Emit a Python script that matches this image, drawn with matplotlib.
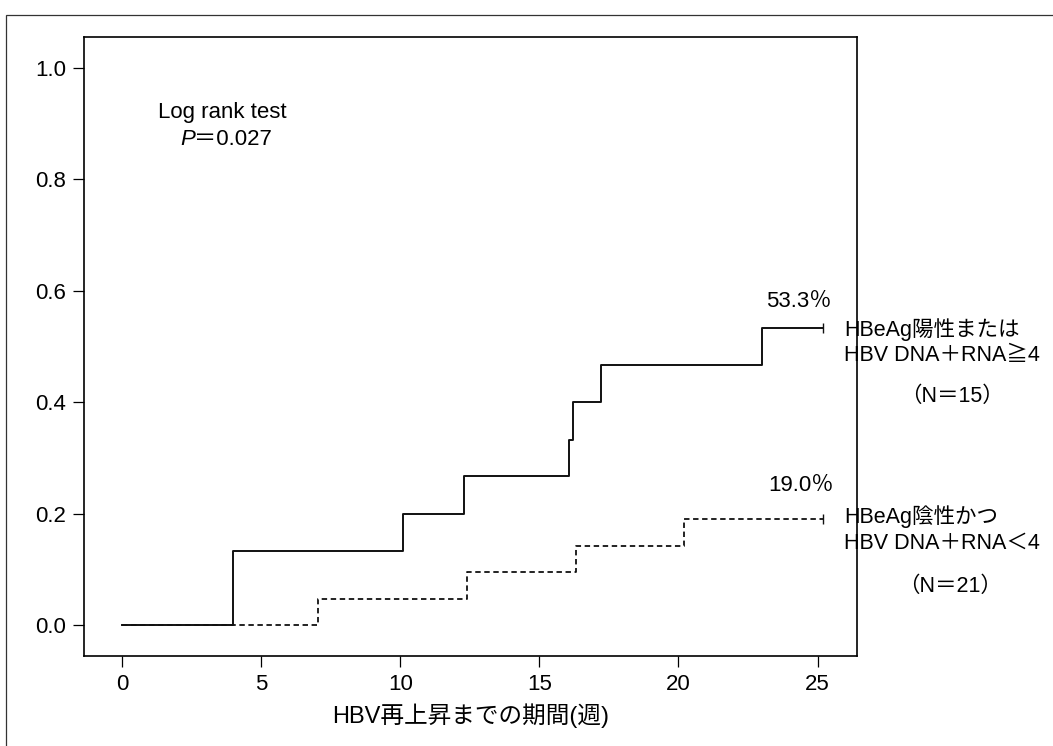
import matplotlib
matplotlib.use("Agg")
from matplotlib import pyplot as plt
from matplotlib.patches import Rectangle
from matplotlib.transforms import offset_copy

plt.rcParams['font.family'] = ['Liberation Sans', 'Noto Sans CJK JP', 'DejaVu Sans']

# 累積再上昇率（Kaplan-Meier）、図から読み取った値
pos_weeks = [0, 4.0, 10.1, 12.3, 16.05, 16.2, 17.2, 23.0, 25.2]
pos_rate = [0, 0.133, 0.200, 0.267, 0.333, 0.400, 0.467, 0.533, 0.533]
neg_weeks = [0, 7.05, 12.4, 16.3, 20.2, 25.2]
neg_rate = [0, 0.048, 0.095, 0.143, 0.190, 0.190]

xticks = [0, 5, 10, 15, 20, 25]
yticks = [0.0, 0.2, 0.4, 0.6, 0.8, 1.0]

fig = plt.figure(figsize=(10.53, 7.46), dpi=100)

# outer frame of the printed figure
fig.add_artist(Rectangle((6 / 1053, -0.02), 1.1, 1 - 15 / 746 + 0.02,
                         transform=fig.transFigure, fill=False,
                         edgecolor='#333333', linewidth=0.9))

ax = fig.add_axes([84 / 1053, 1 - 656 / 746, (857 - 84) / 1053, (656 - 37) / 746])

ax.step(neg_weeks, neg_rate, where='post', color='#111111', linewidth=1.3,
        dashes=(3, 2))
ax.step(pos_weeks, pos_rate, where='post', color='#111111', linewidth=1.4)
ax.plot(pos_weeks[-1], pos_rate[-1], marker='|', markersize=7, color='#111111')
ax.plot(neg_weeks[-1], neg_rate[-1], marker='|', markersize=7, color='#111111')

ax.set_xlim(-1.37, 26.42)
ax.set_ylim(-0.055, 1.055)
ax.set_xticks(xticks)
ax.set_yticks(yticks)
ax.set_xticklabels([str(t) for t in xticks])
ax.set_yticklabels(['%.1f' % t for t in yticks])
ax.tick_params(direction='out', length=8, width=0.9, labelsize=16, pad=5)
for s in ax.spines.values():
    s.set_linewidth(1.2)

ax.set_xlabel('HBV再上昇までの期間(週)', fontsize=17, labelpad=6)

ax.text(1.29, 0.919, 'Log rank test', fontsize=16, va='center', ha='left')
ax.text(2.08, 0.871, 'P', fontsize=16, style='italic', va='center', ha='left')
ax.text(2.08, 0.871, '＝0.027', fontsize=16, va='center', ha='left',
        transform=offset_copy(ax.transData, fig=fig, x=14, y=0, units='dots'))

ax.text(24.34, 0.581, '53.3％', fontsize=16, va='center', ha='center', clip_on=False)
ax.text(25.95, 0.531, 'HBeAg陽性または', fontsize=15.5, va='center', ha='left', clip_on=False)
ax.text(25.95, 0.483, 'HBV DNA＋RNA≧4', fontsize=15.5, va='center', ha='left', clip_on=False)
ax.text(29.82, 0.411, '（N＝15）', fontsize=15.5, va='center', ha='center', clip_on=False)

ax.text(24.42, 0.250, '19.0％', fontsize=16, va='center', ha='center', clip_on=False)
ax.text(25.95, 0.195, 'HBeAg陰性かつ', fontsize=15.5, va='center', ha='left', clip_on=False)
ax.text(25.95, 0.147, 'HBV DNA＋RNA＜4', fontsize=15.5, va='center', ha='left', clip_on=False)
ax.text(29.76, 0.070, '（N＝21）', fontsize=15.5, va='center', ha='center', clip_on=False)

fig.savefig('out.png', dpi=100)
